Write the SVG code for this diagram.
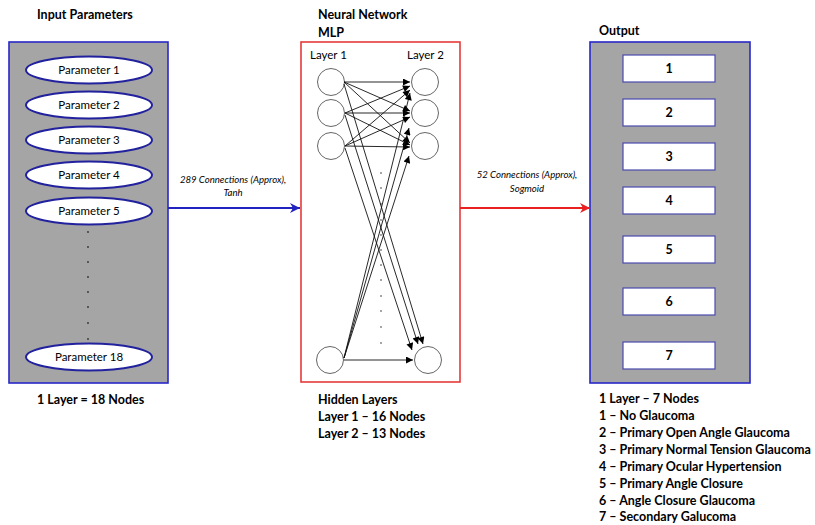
<svg xmlns="http://www.w3.org/2000/svg" width="815" height="525" viewBox="0 0 815 525">
<style>
text{font-family:Lato,"Liberation Sans",sans-serif;fill:#000}
.b{font-weight:bold;font-size:12.5px}
.pl{font-size:11.5px;text-anchor:middle}
.it{font-style:italic;font-size:9.6px;text-anchor:middle}
.panel{fill:#a5a5a5;stroke:#2727c8;stroke-width:1.6}
.ell{fill:#fff;stroke:#22229e;stroke-width:2}
.obox{fill:#fff;stroke:#4a4ab0;stroke-width:1.2}
.neu{fill:#fff;stroke:#555;stroke-width:0.9}
.e{stroke:#111;stroke-width:0.9;fill:none;marker-end:url(#ah)}
.dot{fill:#333}
</style>
<defs>
<marker id="ah" viewBox="0 0 10 10" refX="10" refY="5" markerWidth="9" markerHeight="7" markerUnits="userSpaceOnUse" orient="auto"><path d="M0,0 L10,5 L0,10 z" fill="#000"/></marker>
<marker id="ab" viewBox="0 0 10 10" refX="10" refY="5" markerWidth="12" markerHeight="10" markerUnits="userSpaceOnUse" orient="auto"><path d="M0,0 L10,5 L0,10 L3,5 z" fill="#2222c0"/></marker>
<marker id="ar" viewBox="0 0 10 10" refX="10" refY="5" markerWidth="12" markerHeight="10" markerUnits="userSpaceOnUse" orient="auto"><path d="M0,0 L10,5 L0,10 L3,5 z" fill="#e82020"/></marker>
</defs>

<g id="input-panel">
<text class="b" x="37" y="19">Input Parameters</text>
<rect class="panel" x="9" y="42" width="159" height="341"/>
<g id="p1"><ellipse class="ell" cx="89" cy="70" rx="63" ry="13.5"/><text class="pl" x="89" y="74">Parameter 1</text></g>
<g id="p2"><ellipse class="ell" cx="89" cy="105" rx="63" ry="13.5"/><text class="pl" x="89" y="109">Parameter 2</text></g>
<g id="p3"><ellipse class="ell" cx="89" cy="140" rx="63" ry="13.5"/><text class="pl" x="89" y="144">Parameter 3</text></g>
<g id="p4"><ellipse class="ell" cx="89" cy="175" rx="63" ry="13.5"/><text class="pl" x="89" y="179">Parameter 4</text></g>
<g id="p5"><ellipse class="ell" cx="89" cy="211" rx="63" ry="13.5"/><text class="pl" x="89" y="215">Parameter 5</text></g>
<g class="dot"><circle cx="88" cy="232" r="0.9"/><circle cx="88" cy="247" r="0.9"/><circle cx="88" cy="262" r="0.9"/><circle cx="88" cy="277" r="0.9"/><circle cx="88" cy="292" r="0.9"/><circle cx="88" cy="307" r="0.9"/><circle cx="88" cy="323" r="0.9"/><circle cx="88" cy="339" r="0.9"/></g>
<g id="p18"><ellipse class="ell" cx="89" cy="357" rx="63" ry="13.5"/><text class="pl" x="89" y="361">Parameter 18</text></g>
<text class="b" x="37" y="404">1 Layer = 18 Nodes</text>
</g>

<g id="mlp-panel">
<text class="b" x="318" y="19">Neural Network</text>
<text class="b" x="318" y="37">MLP</text>
<rect x="301" y="42" width="159" height="340" fill="#fff" stroke="#e53a3a" stroke-width="1.6"/>
<text x="310" y="59" font-size="11.5">Layer 1</text>
<text x="407" y="59" font-size="11.5">Layer 2</text>
<g id="n1a"><circle class="neu" cx="331" cy="82" r="13.5"/></g>
<g id="n1b"><circle class="neu" cx="331" cy="113" r="13.5"/></g>
<g id="n1c"><circle class="neu" cx="331" cy="146" r="13.5"/></g>
<g id="n1z"><circle class="neu" cx="330" cy="360" r="13.5"/></g>
<g id="n2a"><circle class="neu" cx="425" cy="82" r="13.5"/></g>
<g id="n2b"><circle class="neu" cx="425" cy="113" r="13.5"/></g>
<g id="n2c"><circle class="neu" cx="425" cy="146" r="13.5"/></g>
<g id="n2z"><circle class="neu" cx="428" cy="360" r="13.5"/></g>
<g class="dot"><circle cx="381" cy="173" r="0.8"/><circle cx="381" cy="188" r="0.8"/><circle cx="381" cy="204" r="0.8"/><circle cx="381" cy="220" r="0.8"/><circle cx="381" cy="235" r="0.8"/><circle cx="381" cy="250" r="0.8"/><circle cx="381" cy="265" r="0.8"/><circle cx="381" cy="280" r="0.8"/><circle cx="381" cy="296" r="0.8"/><circle cx="381" cy="311" r="0.8"/><circle cx="381" cy="327" r="0.8"/><circle cx="381" cy="343" r="0.8"/></g>
<text class="b" x="318" y="404">Hidden Layers</text>
<text class="b" x="318" y="421">Layer 1 – 16 Nodes</text>
<text class="b" x="318" y="438">Layer 2 – 13 Nodes</text>
</g>

<g id="output-panel">
<text class="b" x="599" y="35">Output</text>
<rect class="panel" x="590" y="42" width="160" height="341"/>
<g id="o1"><rect class="obox" x="623" y="55" width="92" height="27"/><text class="b" x="669" y="73" text-anchor="middle">1</text></g>
<g id="o2"><rect class="obox" x="623" y="99" width="92" height="27"/><text class="b" x="669" y="117" text-anchor="middle">2</text></g>
<g id="o3"><rect class="obox" x="623" y="143" width="92" height="27"/><text class="b" x="669" y="161" text-anchor="middle">3</text></g>
<g id="o4"><rect class="obox" x="623" y="187" width="92" height="27"/><text class="b" x="669" y="205" text-anchor="middle">4</text></g>
<g id="o5"><rect class="obox" x="623" y="236" width="92" height="27"/><text class="b" x="669" y="254" text-anchor="middle">5</text></g>
<g id="o6"><rect class="obox" x="623" y="288" width="92" height="27"/><text class="b" x="669" y="306" text-anchor="middle">6</text></g>
<g id="o7"><rect class="obox" x="623" y="342" width="92" height="27"/><text class="b" x="669" y="360" text-anchor="middle">7</text></g>
<text class="b" x="599" y="403">1 Layer – 7 Nodes</text>
<text class="b" x="599" y="420">1 – No Glaucoma</text>
<text class="b" x="599" y="437">2 – Primary Open Angle Glaucoma</text>
<text class="b" x="599" y="454">3 – Primary Normal Tension Glaucoma</text>
<text class="b" x="599" y="471">4 – Primary Ocular Hypertension</text>
<text class="b" x="599" y="488">5 – Primary Angle Closure</text>
<text class="b" x="599" y="505">6 – Angle Closure Glaucoma</text>
<text class="b" x="599" y="521">7 – Secondary Galucoma</text>
</g>

<g id="connectors">
<line x1="168" y1="208" x2="300" y2="208" stroke="#2222c0" stroke-width="2" marker-end="url(#ab)"/>
<text class="it" x="233" y="183">289 Connections (Approx),</text>
<text class="it" x="233" y="196">Tanh</text>
<line x1="460" y1="208" x2="590" y2="208" stroke="#e82020" stroke-width="2" marker-end="url(#ar)"/>
<text class="it" x="527" y="178">52 Connections (Approx),</text>
<text class="it" x="527" y="192">Sogmoid</text>
<path class="e" d="M344,82 L410,82"/>
<path class="e" d="M344,82 L410,111"/>
<path class="e" d="M344,82 L410,143"/>
<path class="e" d="M345,113 L410,86"/>
<path class="e" d="M345,113 L410,113"/>
<path class="e" d="M345,113 L410,145"/>
<path class="e" d="M345,146 L410,90"/>
<path class="e" d="M345,146 L410,117"/>
<path class="e" d="M345,146 L410,147"/>
<path class="e" d="M344,84 L423,344"/>
<path class="e" d="M345,115 L418,344"/>
<path class="e" d="M345,148 L412,350"/>
<path class="e" d="M344,358 L410,93"/>
<path class="e" d="M344,358 L409,128"/>
<path class="e" d="M344,358 L409,156"/>
<path class="e" d="M344,360 L413,360"/>
</g>
</svg>
